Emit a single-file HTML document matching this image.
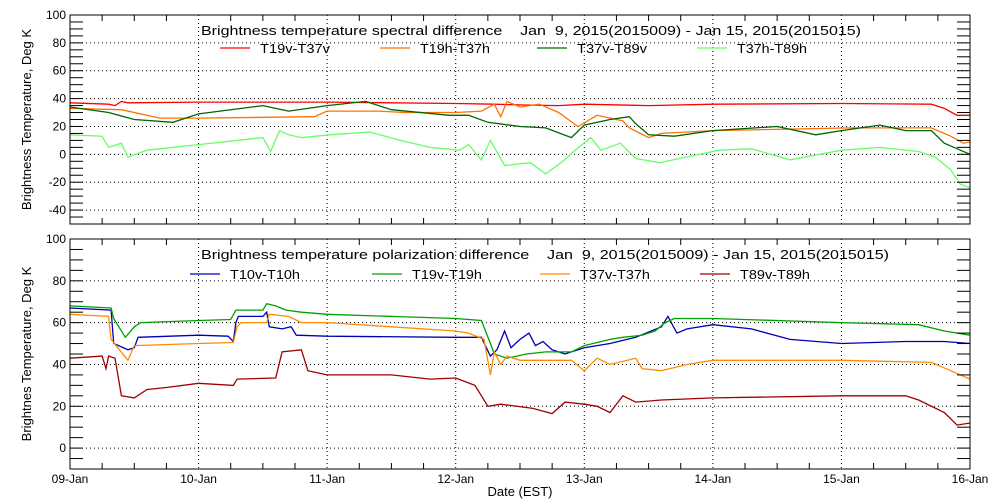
<!DOCTYPE html>
<html><head><meta charset="utf-8">
<style>
body{margin:0;background:#fff;}
svg{display:block;font-family:"Liberation Sans",sans-serif;}
</style></head>
<body>
<svg id="chart" width="1000" height="500" viewBox="0 0 1000 500"></svg>
<script>
// ---- data ----
const dayLabels = ["09-Jan","10-Jan","11-Jan","12-Jan","13-Jan","14-Jan","15-Jan","16-Jan"];
const topTicks = [100,80,60,40,20,0,-20,-40];
const botTicks = [100,80,60,40,20,0];

const redT = [0,0.3,0.35,0.4,0.45,1,2,3,3.3,3.5,3.8,4,4.5,5,6,6.7,6.8,6.9,7];
const redV = [37,36,35,38,37,37.5,37.5,36.5,36,35.5,35,36,35,36,36.5,36,33,28,28];
const oraT = [0,0.4,0.5,0.7,1.0,1.9,2.0,2.4,2.6,2.8,3.0,3.2,3.3,3.35,3.4,3.5,3.65,3.8,3.95,4.1,4.3,4.35,4.5,4.6,5.0,6.07,6.7,6.85,6.95,7.0];
const oraV = [33,32,30,26,26,27,31,31,30,30,30,31,36,27,38,34,36,30,20,28,24,19,12,15,17,19,19,13,8,9];
const dgrT = [0,0.3,0.5,0.8,1.0,1.5,1.7,2.0,2.3,2.5,2.95,3.1,3.25,3.5,3.7,3.9,4.0,4.2,4.35,4.4,4.5,4.7,5.0,5.5,5.8,6.0,6.3,6.5,6.7,6.8,7.0];
const dgrV = [34,30,25,23,29,35,31,35,38,32,28,28,23,20,19,12,21,25,27,22,14,13,17,20,14,17,21,17,17,8,0];
const lgrT = [0,0.25,0.3,0.4,0.45,0.6,1.0,1.5,1.56,1.63,1.7,1.8,2.02,2.33,2.57,2.8,3.03,3.1,3.2,3.27,3.38,3.58,3.7,3.82,3.93,4.05,4.13,4.28,4.4,4.59,4.74,5.05,5.3,5.6,6.0,6.3,6.6,6.73,6.85,6.92,7.0];
const lgrV = [14,13,5,8,-2,3,7,12,2,17,14,12,14,16,10,5,3,7,-4,10,-8,-6,-14,-6,3,12,3,8,-3,-6,-3,3,4,-4,3,5,2,-2,-11,-21,-24];

const bluT = [0,0.32,0.34,0.45,0.5,0.53,1.0,1.23,1.27,1.29,1.31,1.5,1.53,1.55,1.65,1.72,1.76,2.0,3.0,3.2,3.27,3.32,3.38,3.43,3.5,3.57,3.62,3.68,3.75,3.85,4.0,4.2,4.4,4.6,4.65,4.72,4.8,5.0,5.3,5.6,6.0,6.5,6.8,7.0];
const bluV = [67,66,50,47,48,53,54,53.5,51,60,63,63,65,58,57,58,54,53.5,53,53,44,47,56,48,52,55,49,51,47,45,48,50,53,58,63,55,57,59,57,52,50,51,51,50];
const grnT = [0,0.32,0.34,0.43,0.5,0.55,1.0,1.25,1.29,1.5,1.53,1.6,1.68,1.8,2.0,2.5,3.0,3.2,3.27,3.3,3.4,3.55,3.7,3.9,4.0,4.2,4.3,4.45,4.55,4.63,4.7,5.0,6.0,6.6,6.8,7.0];
const grnV = [68,67,62,53,58,60,61,61.5,66,66,69,68,66,65,64,63,62,61,50,45,43,45,46,46,49,52,53,54,56,60,62,62,60,59,56,54];
const or2T = [0,0.3,0.32,0.45,0.5,1.0,1.27,1.3,1.33,1.53,1.55,1.7,1.8,2.0,2.5,3.0,3.1,3.22,3.27,3.3,3.35,3.4,3.5,3.7,3.9,4.0,4.1,4.2,4.4,4.45,4.6,4.8,5.0,6.0,6.7,6.85,7.0];
const or2V = [64,63,52,42,49,50,50.5,58,60,60,64,63,60,60,58,56,55,52,35,46,40,44,42,42,42,37,43,40,43,38,37,40,42,42,41,37,33];
const drdT = [0,0.25,0.28,0.3,0.35,0.4,0.5,0.6,0.75,1.0,1.27,1.3,1.6,1.65,1.8,1.85,2.0,2.5,2.8,3.0,3.15,3.25,3.35,3.6,3.75,3.85,4.0,4.1,4.2,4.3,4.4,4.6,5.0,6.0,6.5,6.6,6.8,6.9,7.0];
const drdV = [43,44,38,44,43,25,24,28,29,31,30,33,33.5,46,47,37,35,35,33,33.5,30,20,21,19,16.5,22,21,20,17,25,22,23,24,25,25,23,17,11,12];

// ---- layout ----
const NS="http://www.w3.org/2000/svg";
const svg=document.getElementById('chart');
const X0=70,X1=970;
const xs=t=>X0+(X1-X0)*t/7;
const panels=[
 {top:15,bot:224,min:-50,max:100,ticks:topTicks,minor:5,ytitle:"Brightness Temperature, Deg K",
  title:"Brightness temperature spectral difference    Jan  9, 2015(2015009) - Jan 15, 2015(2015015)",
  ty:35,ly:53,tl:660,
  series:[["t19v-t37v","T19v-T37v","#ff0000",redT,redV,220],["t19h-t37h","T19h-T37h","#ff7000",oraT,oraV,380],["t37v-t89v","T37v-T89v","#006400",dgrT,dgrV,537],["t37h-t89h","T37h-T89h","#66ff66",lgrT,lgrV,697]]},
 {top:239,bot:469,min:-10,max:100,ticks:botTicks,minor:5,ytitle:"Brightnes Temperature, Deg K",
  title:"Brightness temperature polarization difference    Jan  9, 2015(2015009) - Jan 15, 2015(2015015)",
  ty:259,ly:279,tl:688,
  series:[["t10v-t10h","T10v-T10h","#0000b0",bluT,bluV,190],["t19v-t19h","T19v-T19h","#00a000",grnT,grnV,372],["t37v-t37h","T37v-T37h","#ff8c00",or2T,or2V,540],["t89v-t89h","T89v-T89h","#a00000",drdT,drdV,700]]}
];
function el(tag,attrs,parent){const e=document.createElementNS(NS,tag);for(const k in attrs)e.setAttribute(k,attrs[k]);(parent||svg).appendChild(e);return e;}

panels.forEach((p,pi)=>{
  const ys=v=>p.bot-(p.bot-p.top)*(v-p.min)/(p.max-p.min);
  const g=el('g',{});
  
  
  p.ticks.forEach(v=>{ if(v>p.min&&v<p.max){const l=el('line',{x1:X0,x2:X1,y1:ys(v),y2:ys(v),stroke:'#000','stroke-dasharray':'1,3','stroke-width':1},g);
    
    }});
  for(let d=1;d<7;d++){const l=el('line',{x1:xs(d),x2:xs(d),y1:p.top,y2:p.bot,stroke:'#000','stroke-dasharray':'1,3'},g);
    
    }
  p.series.forEach(s=>{
    const pts=s[3].map((t,i)=>xs(t).toFixed(1)+','+ys(s[4][i]).toFixed(1)).join(' ');
    const pl=el('polyline',{points:pts,fill:'none',stroke:s[2],'stroke-width':1.3},g);
    
    
    const ll=el('line',{x1:s[5],x2:s[5]+30,y1:p.ly-5,y2:p.ly-5,stroke:s[2],'stroke-width':1.3},g);
    
    
    const lt=el('text',{x:s[5]+40,y:p.ly,'font-size':13,textLength:70,lengthAdjust:'spacingAndGlyphs'},g);lt.textContent=s[1];
    
    
  });
  const fr=el('rect',{x:X0,y:p.top,width:X1-X0,height:p.bot-p.top,fill:'none',stroke:'#000'},g);
  
  
  for(let v=p.min;v<=p.max;v+=p.minor){
    const len=13;
    el('line',{x1:X0,x2:X0+len,y1:ys(v),y2:ys(v),stroke:'#000'},g);
    el('line',{x1:X1-len,x2:X1,y1:ys(v),y2:ys(v),stroke:'#000'},g);
  }
  p.ticks.forEach(v=>{const t=el('text',{x:X0-4,y:ys(v)+4,'font-size':12,'text-anchor':'end'},g);t.textContent=v;
    
    });
  for(let q=0;q<=28;q++){const x=xs(q/4);const len=q%4?6:0;
    if(len){el('line',{x1:x,x2:x,y1:p.top,y2:p.top+len,stroke:'#000'},g);el('line',{x1:x,x2:x,y1:p.bot-len,y2:p.bot,stroke:'#000'},g);}}
  const yt=el('text',{x:0,y:0,'font-size':13,'text-anchor':'middle',transform:`translate(31,${(p.top+p.bot)/2}) rotate(-90)`},g);yt.textContent=p.ytitle;
  
  
  const tt=el('text',{x:201,y:p.ty,'font-size':13,textLength:p.tl,lengthAdjust:'spacingAndGlyphs'},g);tt.textContent=p.title;tt.style.whiteSpace='pre';
  
  
});
dayLabels.forEach((d,i)=>{const t=el('text',{x:xs(i),y:483,'font-size':12,'text-anchor':'middle'});t.textContent=d;
  
  });
const xt=el('text',{x:520,y:496,'font-size':13,'text-anchor':'middle'});xt.textContent="Date (EST)";


</script>
</body></html>
